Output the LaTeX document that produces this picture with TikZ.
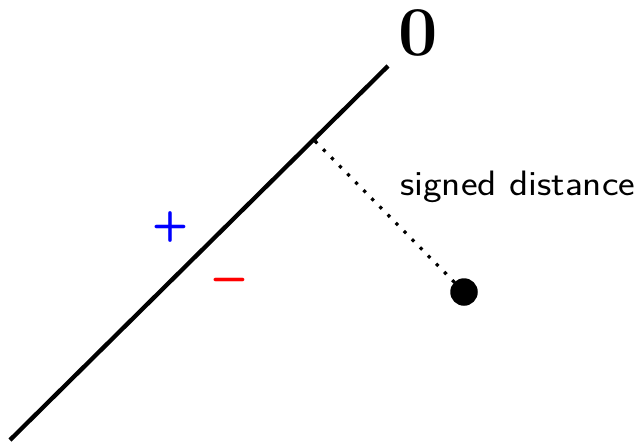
\documentclass[tikz,border=0pt]{standalone}
\tikzset{
  mainline/.style={line width=4.3pt, line cap=butt},
  distline/.style={line width=3.2pt, dash pattern=on 3.2pt off 8.3pt},
  pointdot/.style={circle, fill=black, inner sep=0pt, minimum size=27.5pt},
  signmark/.style={inner sep=0pt, anchor=base, font=\fontsize{42}{42}\selectfont\sffamily\bfseries},
}
\begin{document}
\begin{tikzpicture}[x=1pt,y=-1pt]
\useasboundingbox (0,0) rectangle (642,444);
\coordinate (lineA) at (10,440);
\coordinate (lineB) at (388,66);
\coordinate (foot) at (315,141);
\node[pointdot] (pt) at (464,292) {};
\draw[mainline] (lineA) -- (lineB);
\draw[distline] (foot) -- (pt.center);
\node[anchor=base, inner sep=0pt] (zero) at (418,55.5) {\fontsize{70}{70}\selectfont\bfseries 0};
\node[anchor=base west, inner sep=0pt] (lbl) at (400,195) {\resizebox{235pt}{24.5pt}{\fontsize{35}{35}\selectfont\sffamily signed distance}};
\node[signmark, text=blue] (plus) at (170,237.5) {+};
\node[signmark, text=red] (minus) at (229,290.5) {\char"2212};
\end{tikzpicture}
\end{document}
